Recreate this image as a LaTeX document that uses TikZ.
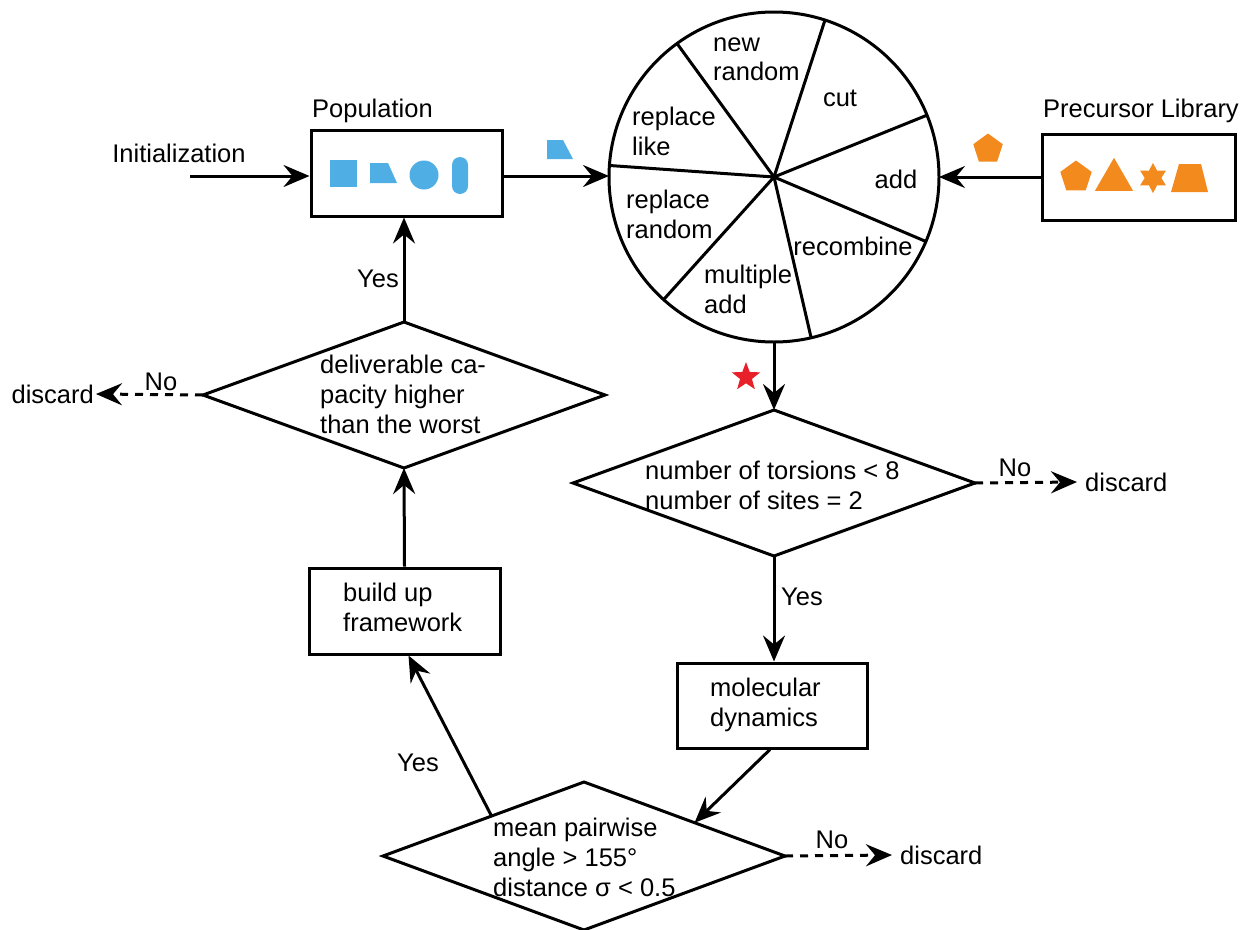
\documentclass[tikz,border=0pt]{standalone}
\usepackage{fontspec}
\setmainfont{Liberation Sans}
\usetikzlibrary{arrows.meta,shapes.geometric,calc}
\definecolor{popblue}{HTML}{4FAEE3}
\definecolor{liborange}{HTML}{F28A1E}
\definecolor{starred}{HTML}{E8202A}
\begin{document}
\begin{tikzpicture}[x=1pt,y=-1pt,
  every node/.style={font=\fontsize{25.5}{30}\selectfont},
  ln/.style={line width=3pt},
  arr/.style={ln,-{Stealth[length=26pt,width=22pt,inset=9pt]}},
  darr/.style={arr,dash pattern=on 8pt off 7pt},
  boxnode/.style={draw,line width=3pt,rectangle,inner sep=0pt},
  dia/.style={draw,line width=3pt,diamond,inner sep=0pt,outer sep=0pt},
  txt/.style={align=left,inner sep=0pt},
  lbl/.style={inner sep=0pt},
  orfill/.style={fill=liborange,draw=none}
]
\useasboundingbox (0,0) rectangle (1242,929);

% Population
\node[boxnode,minimum width=191pt,minimum height=86pt] (pop) at (406.5,173) {};
\node[lbl,anchor=west] (poplbl) at (312,111) {Population};
\fill[popblue] (330,160) rectangle (357,187);
\fill[popblue] (370,163) -- (388,163) -- (397,183) -- (370,183) -- cycle;
\fill[popblue] (424,175) circle (14.5);
\fill[popblue, rounded corners=8pt] (452,157) rectangle (468,194);
\fill[popblue] (547,140) -- (563,140) -- (573,159) -- (547,159) -- cycle;

% Initialization
\node[lbl] (init) at (179,153) {Initialization};
\coordinate (initstart) at (190,176);

% Wheel
\node[draw,line width=3pt,circle,minimum size=330pt,inner sep=0pt,outer sep=0pt] (wheel) at (774,177) {};
\foreach \a in {126,72.7,22.6,-23,-77.8,228.3,176.5}
  \draw[ln] (wheel.center) -- (wheel.\a);
\node[txt,anchor=west] (newrandom) at (713,59) {new\\[-1pt]random};
\node[lbl] (cut) at (840,98) {cut};
\node[txt,anchor=west] (replike) at (632,131) {replace\\like};
\node[lbl] (add) at (896,179) {add};
\node[txt,anchor=west] (reprandom) at (626,214) {replace\\random};
\node[lbl] (recomb) at (853,246) {recombine};
\node[txt,anchor=west] (multadd) at (704,289) {multiple\\add};

% Precursor library
\node[boxnode,minimum width=193pt,minimum height=86pt] (lib) at (1139,177) {};
\node[lbl] (liblbl) at (1141,111) {Precursor Library};
\node[regular polygon,regular polygon sides=5,orfill,minimum size=33pt,inner sep=0pt] (p1) at (1076,177) {};
\node[regular polygon,regular polygon sides=3,orfill,minimum size=44pt,inner sep=0pt,anchor=south] (t1) at (1114,191) {};
\node[star,star points=6,star point ratio=1.8,orfill,minimum size=30pt,inner sep=0pt] (s1) at (1153,178) {};
\fill[liborange] (1171,192) -- (1179,164) -- (1201,164) -- (1208,192) -- cycle;
\node[regular polygon,regular polygon sides=5,orfill,minimum size=31pt,inner sep=0pt] (p2) at (988,149) {};

% red star
\node[star,star points=5,star point ratio=2.4,fill=starred,minimum size=30pt,inner sep=0pt] (rs) at (746,377) {};

% Diamonds
\node[dia,minimum width=402pt,minimum height=146pt] (d1) at (774,483) {};
\node[txt,anchor=west] (d1t) at (645,485) {number of torsions < 8\\number of sites = 2};
\node[dia,minimum width=402pt,minimum height=146pt] (d2) at (404,395) {};
\node[txt,anchor=west] (d2t) at (320,394) {deliverable ca-\\pacity higher\\than the worst};
\node[dia,minimum width=402pt,minimum height=148pt] (d3) at (584,856) {};
\node[txt,anchor=west] (d3t) at (493,857) {mean pairwise\\angle > 155°\\distance σ < 0.5};

% Boxes
\node[boxnode,minimum width=190pt,minimum height=85pt] (md) at (772,705.5) {};
\node[txt,anchor=west] (mdt) at (710,705) {molecular\\dynamics};
\node[boxnode,minimum width=191pt,minimum height=86pt] (build) at (404.5,611) {};
\node[txt,anchor=west] (buildt) at (343,607) {build up\\framework};

% discards
\node[lbl,anchor=west] (disc1) at (1085,482) {discard};
\node[lbl,anchor=east] (disc2) at (94,394) {discard};
\node[lbl,anchor=west] (disc3) at (900,855) {discard};

% Arrows
\draw[arr] (initstart) -- (pop.west |- initstart);
\draw[arr] (pop.east |- initstart) -- (wheel.west |- initstart);
\draw[arr] (lib.west) -- (wheel.east);
\draw[arr] (wheel.south) -- (d1.north);
\draw[darr] (d1.east) -- ([xshift=-8pt]disc1.west);
\draw[arr] (d1.south) -- (d1.south |- md.north);
\draw[arr] ([xshift=-2pt]md.south) -- ($(d3.north)!0.55!(d3.east)$);
\draw[darr] (d3.east) -- ([xshift=-8pt]disc3.west);
\draw[arr] ($(d3.west)!0.54!(d3.north)$) -- ([xshift=4pt]build.south);
\draw[arr] (build.north) -- (d2.south);
\draw[arr] (d2.north) -- (d2.north |- pop.south);
\draw[darr] (d2.west) -- ([xshift=2pt]disc2.east);

% Yes / No labels
\node[lbl] (yes1) at (378,279) {Yes};
\node[lbl] (yes2) at (802,597) {Yes};
\node[lbl] (yes3) at (418,763) {Yes};
\node[lbl] (no1) at (161,382) {No};
\node[lbl] (no2) at (1015,468) {No};
\node[lbl] (no3) at (832,840) {No};
\end{tikzpicture}
\end{document}
